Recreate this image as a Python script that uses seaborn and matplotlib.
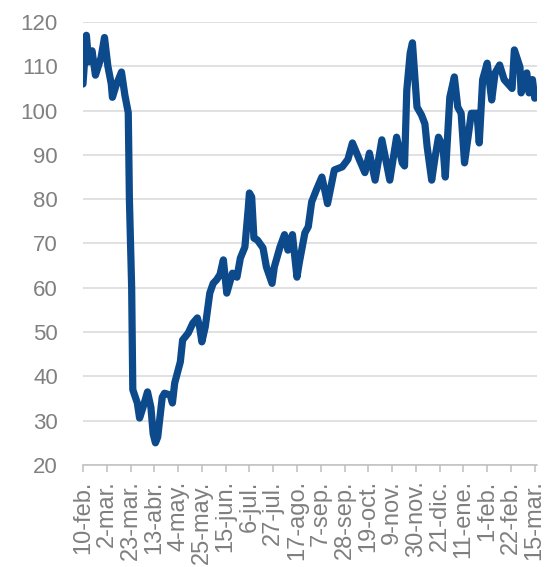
import pandas as pd
import matplotlib
matplotlib.use("Agg")
import matplotlib.pyplot as plt
import seaborn as sns

# values (date, index level)
dates = [
    "2020-02-10", "2020-02-13", "2020-02-15", "2020-02-18", "2020-02-21", "2020-02-26",
    "2020-02-29", "2020-03-03", "2020-03-06", "2020-03-07", "2020-03-10", "2020-03-15",
    "2020-03-18", "2020-03-21", "2020-03-22", "2020-03-24", "2020-03-25", "2020-03-29",
    "2020-03-31", "2020-04-03", "2020-04-07", "2020-04-10", "2020-04-12", "2020-04-14",
    "2020-04-16", "2020-04-20", "2020-04-22", "2020-04-27", "2020-04-29", "2020-05-01",
    "2020-05-06", "2020-05-08", "2020-05-13", "2020-05-17", "2020-05-21", "2020-05-23",
    "2020-05-25", "2020-05-28", "2020-05-30", "2020-06-01", "2020-06-04", "2020-06-07",
    "2020-06-10", "2020-06-13", "2020-06-16", "2020-06-21", "2020-06-25", "2020-06-28",
    "2020-07-02", "2020-07-05", "2020-07-06", "2020-07-08", "2020-07-10", "2020-07-13",
    "2020-07-18", "2020-07-21", "2020-07-26", "2020-07-28", "2020-08-02", "2020-08-06",
    "2020-08-09", "2020-08-13", "2020-08-17", "2020-08-19", "2020-08-24", "2020-08-27",
    "2020-08-30", "2020-09-03", "2020-09-08", "2020-09-11", "2020-09-13", "2020-09-19",
    "2020-09-26", "2020-10-01", "2020-10-05", "2020-10-11", "2020-10-16", "2020-10-20",
    "2020-10-25", "2020-10-31", "2020-11-07", "2020-11-13", "2020-11-18", "2020-11-20",
    "2020-11-22", "2020-11-25", "2020-11-27", "2020-12-01", "2020-12-05", "2020-12-08",
    "2020-12-10", "2020-12-14", "2020-12-17", "2020-12-20", "2020-12-24", "2020-12-26",
    "2020-12-30", "2021-01-03", "2021-01-06", "2021-01-09", "2021-01-12", "2021-01-18",
    "2021-01-23", "2021-01-25", "2021-01-28", "2021-02-01", "2021-02-05", "2021-02-08",
    "2021-02-12", "2021-02-16", "2021-02-23", "2021-02-25", "2021-03-02", "2021-03-03",
    "2021-03-08", "2021-03-10", "2021-03-13", "2021-03-15",
]
values = [
    106, 117, 111, 113.5, 108, 112,
    116.5, 110, 106, 103, 105.5, 108.7,
    103.5, 99.5, 80, 60, 37, 34,
    30.6, 33, 36.5, 33, 27, 25,
    26.3, 35.3, 36.2, 35.8, 34, 38.5,
    43.3, 48.2, 49.8, 52, 53.2, 51.2,
    47.8, 51.2, 55, 58.8, 61, 61.8,
    63, 66.3, 58.8, 63.3, 62.4, 66.7,
    69.2, 78, 81.4, 80.5, 71.2, 70.8,
    69, 64.7, 61, 64.7, 69.2, 72,
    68.5, 72, 62.4, 65.6, 72.4, 73.8,
    79.4, 82, 85, 81.5, 79, 86.6,
    87.3, 89, 92.7, 89, 86, 90.4,
    84.3, 93.4, 84.3, 94, 88.2, 87.5,
    104.6, 113, 115.3, 100.8, 99, 97,
    91.8, 84.3, 89.5, 94, 91.8, 85,
    103, 107.6, 100.8, 99.4, 88.2, 99.4,
    99.4, 92.7, 107, 110.7, 102.4, 108.5,
    110.3, 107, 105, 113.7, 109.8, 104,
    108.5, 104, 107, 102.8,
]

tick_dates = pd.date_range("2020-02-10", "2021-03-15", freq="21D")
tick_labels = ["10-feb.", "2-mar.", "23-mar.", "13-abr.", "4-may.", "25-may.", "15-jun.",
               "6-jul.", "27-jul.", "17-ago.", "7-sep.", "28-sep.", "19-oct.", "9-nov.",
               "30-nov.", "21-dic.", "11-ene.", "1-feb.", "22-feb.", "15-mar."]
y_ticks = [20, 30, 40, 50, 60, 70, 80, 90, 100, 110, 120]

df = pd.DataFrame({"fecha": pd.to_datetime(dates), "valor": values})

sns.set_style("white")
plt.rcParams["font.family"] = ["Liberation Sans", "DejaVu Sans"]

fig = plt.figure(figsize=(5.47, 5.67), dpi=100)
ax = fig.add_axes([0.1517, 0.1799, 0.830, 0.7813])

sns.lineplot(data=df, x="fecha", y="valor", ax=ax, color="#0d4a8c", linewidth=5.2,
             solid_joinstyle="round", solid_capstyle="round")

ax.set_ylim(20, 120)
ax.set_xlim(pd.Timestamp("2020-02-10"), pd.Timestamp("2021-03-17"))
ax.set_yticks(y_ticks)
ax.set_xticks(tick_dates)
ax.set_xticklabels(tick_labels, rotation=90)
ax.grid(axis="y", color="#d9d9d9", linewidth=1.1)
ax.set_axisbelow(True)

for side in ["top", "right", "left"]:
    ax.spines[side].set_visible(False)
ax.spines["bottom"].set_color("#bfbfbf")
ax.spines["bottom"].set_linewidth(1.1)

ax.tick_params(axis="y", length=0, pad=18, labelsize=16, labelcolor="#808080")
ax.tick_params(axis="x", bottom=True, direction="out", length=5, width=1.1, color="#bfbfbf",
               pad=6, labelsize=17, labelcolor="#7f7f7f")
ax.set_xlabel("")
ax.set_ylabel("")

fig.savefig("out.png", dpi=100)
